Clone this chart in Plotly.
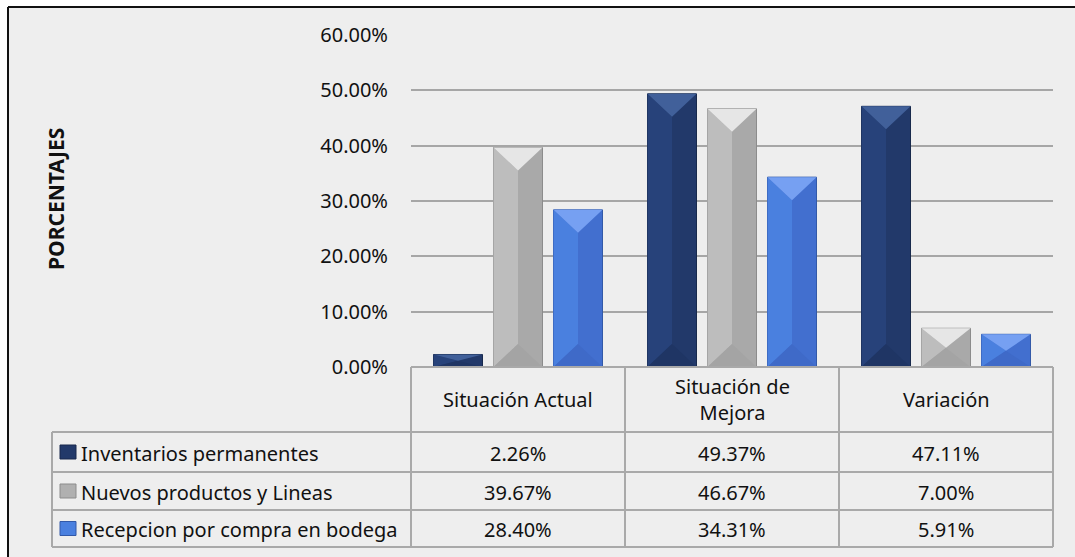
import plotly.graph_objects as go

# ---- data ----
categories = ["Situación Actual", "Situación de<br>Mejora", "Variación"]
series_names = ["Inventarios permanentes", "Nuevos productos y Lineas", "Recepcion por compra en bodega"]
inventarios = [2.26, 49.37, 47.11]
nuevos = [39.67, 46.67, 7.00]
recepcion = [28.40, 34.31, 5.91]
y_ticks = [0, 10, 20, 30, 40, 50, 60]

series_values = [inventarios, nuevos, recepcion]

# ---- styling ----
W, H = 1075, 557
FONT = "Noto Sans"
body_colors = ["#22396a", "#a9a9a9", "#426fcf"]
side_colors = ["#27427a", "#bdbdbd", "#4a80df"]
top_colors = ["#41609a", "#e6e6e6", "#76a0f2"]
bottom_colors = ["#1f3564", "#a4a4a4", "#3f6ac8"]
edge_colors = ["#18294c", "#8c8c8c", "#3259a8"]
key_colors = ["#22396a", "#b0b0b0", "#4a80df"]
grid_color = "#a6a6a6"
table_color = "#a9a9a9"
chart_bg = "#eeeeee"

# plot area in pixels
PX0, PX1 = 411, 1053
PY_TOP, PY_ZERO = 35, 367
Y_MAX = 60

def px(x):
    return x / W

def py(y):
    return 1 - y / H

n_cat = len(categories)
unit_px = (PX1 - PX0) / n_cat          # pixels per category unit
slot = 60 / unit_px                      # distance between bar centres
bar_w = 49 / unit_px                     # bar width in x units
y_per_px = Y_MAX / (PY_ZERO - PY_TOP)    # y units per pixel

fig = go.Figure()

for s, (name, vals) in enumerate(zip(series_names, series_values)):
    centres = [i + (s - 1) * slot for i in range(n_cat)]
    fig.add_trace(go.Bar(
        x=centres, y=vals, width=bar_w, name=name,
        marker=dict(color=body_colors[s], line=dict(color=edge_colors[s], width=1)),
        showlegend=False, hovertemplate="%{y:.2f}%<extra>" + name + "</extra>",
    ))
    # bevel faces derived from each bar's value
    top_x, top_y, left_x, left_y, bot_x, bot_y = [], [], [], [], [], []
    for c, v in zip(centres, vals):
        x0, x1 = c - bar_w / 2, c + bar_w / 2
        d = min(23 * y_per_px, v / 2)
        top_x += [x0, x1, c, x0, None]
        top_y += [v, v, v - d, v, None]
        left_x += [x0, c, c, x0, x0, None]
        left_y += [v, v - d, d, 0, v, None]
        bot_x += [x0, x1, c, x0, None]
        bot_y += [0, 0, d, 0, None]
    for xs, ys, col in ((left_x, left_y, side_colors[s]),
                        (bot_x, bot_y, bottom_colors[s]),
                        (top_x, top_y, top_colors[s])):
        fig.add_trace(go.Scatter(
            x=xs, y=ys, mode="lines", fill="toself", fillcolor=col,
            line=dict(width=0, color=col), hoverinfo="skip", showlegend=False,
        ))

shapes = []
# white page strips outside the chart frame, then the frame's top and left edges
shapes.append(dict(type="rect", xref="paper", yref="paper",
                   x0=0, x1=px(8), y0=0, y1=1,
                   fillcolor="white", line=dict(width=0), layer="below"))
shapes.append(dict(type="rect", xref="paper", yref="paper",
                   x0=0, x1=1, y0=py(7), y1=1,
                   fillcolor="white", line=dict(width=0), layer="below"))
frame = dict(color="#111111", width=2)
shapes.append(dict(type="line", xref="paper", yref="paper",
                   x0=px(8), x1=1, y0=py(7), y1=py(7), line=frame))
shapes.append(dict(type="line", xref="paper", yref="paper",
                   x0=px(8), x1=px(8), y0=py(7), y1=0, line=frame))

# data table grid
line = dict(color=table_color, width=2)
col_x = [PX0 + i * unit_px for i in range(n_cat + 1)]
row_y = [367, 432, 472, 510, 547]
LEFT = 52
for i, x in enumerate(col_x):
    shapes.append(dict(type="line", xref="paper", yref="paper",
                       x0=px(x), x1=px(x), y0=py(row_y[0]), y1=py(row_y[-1]), line=line))
shapes.append(dict(type="line", xref="paper", yref="paper",
                   x0=px(LEFT), x1=px(LEFT), y0=py(row_y[1]), y1=py(row_y[-1]), line=line))
shapes.append(dict(type="line", xref="paper", yref="paper",
                   x0=px(PX0), x1=px(PX1), y0=py(row_y[0]), y1=py(row_y[0]), line=line))
for y in row_y[1:]:
    shapes.append(dict(type="line", xref="paper", yref="paper",
                       x0=px(LEFT), x1=px(PX1), y0=py(y), y1=py(y), line=line))

annotations = []
tfont = dict(family=FONT, size=20, color="#111111")
# column headers
for i, cat in enumerate(categories):
    annotations.append(dict(xref="paper", yref="paper",
                            x=px((col_x[i] + col_x[i + 1]) / 2), y=py((row_y[0] + row_y[1]) / 2),
                            text=cat, showarrow=False, font=tfont, xanchor="center", yanchor="middle"))
# rows: legend key, series name, values
for r, (name, vals) in enumerate(zip(series_names, series_values)):
    yc = (row_y[r + 1] + row_y[r + 2]) / 2
    shapes.append(dict(type="rect", xref="paper", yref="paper",
                       x0=px(60), x1=px(76), y0=py(yc - 7), y1=py(yc + 7),
                       fillcolor=key_colors[r], line=dict(color=edge_colors[r], width=1)))
    annotations.append(dict(xref="paper", yref="paper", x=px(79), y=py(yc + 1),
                            text=name, showarrow=False, font=tfont,
                            xanchor="left", yanchor="middle"))
    for i, v in enumerate(vals):
        annotations.append(dict(xref="paper", yref="paper",
                                x=px((col_x[i] + col_x[i + 1]) / 2), y=py(yc + 1),
                                text=f"{v:.2f}%", showarrow=False, font=tfont,
                                xanchor="center", yanchor="middle"))

# axis title
annotations.append(dict(xref="paper", yref="paper", x=px(56), y=py(199),
                        text="<b>PORCENTAJES</b>", textangle=-90, showarrow=False,
                        font=dict(family=FONT, size=21, color="#111111"),
                        xanchor="center", yanchor="middle"))

fig.update_layout(
    width=W, height=H,
    margin=dict(l=0, r=0, t=0, b=0, autoexpand=False),
    paper_bgcolor=chart_bg,
    plot_bgcolor="rgba(0,0,0,0)",
    barmode="overlay",
    shapes=shapes,
    annotations=annotations,
    xaxis=dict(domain=[px(PX0), px(PX1)], range=[-0.5, n_cat - 0.5], automargin=False,
               showgrid=False, zeroline=False, showticklabels=False, fixedrange=True),
    yaxis=dict(domain=[py(PY_ZERO), py(PY_TOP)], range=[0, Y_MAX], automargin=False,
               tickvals=y_ticks, ticktext=[f"{t:.2f}%" for t in y_ticks],
               showgrid=True, gridcolor=grid_color, gridwidth=2,
               zeroline=False, showline=False, ticks="",
               ticklabelstandoff=22,
               tickfont=dict(family=FONT, size=20, color="#111111")),
    showlegend=False,
)

fig.write_html("out.html")
